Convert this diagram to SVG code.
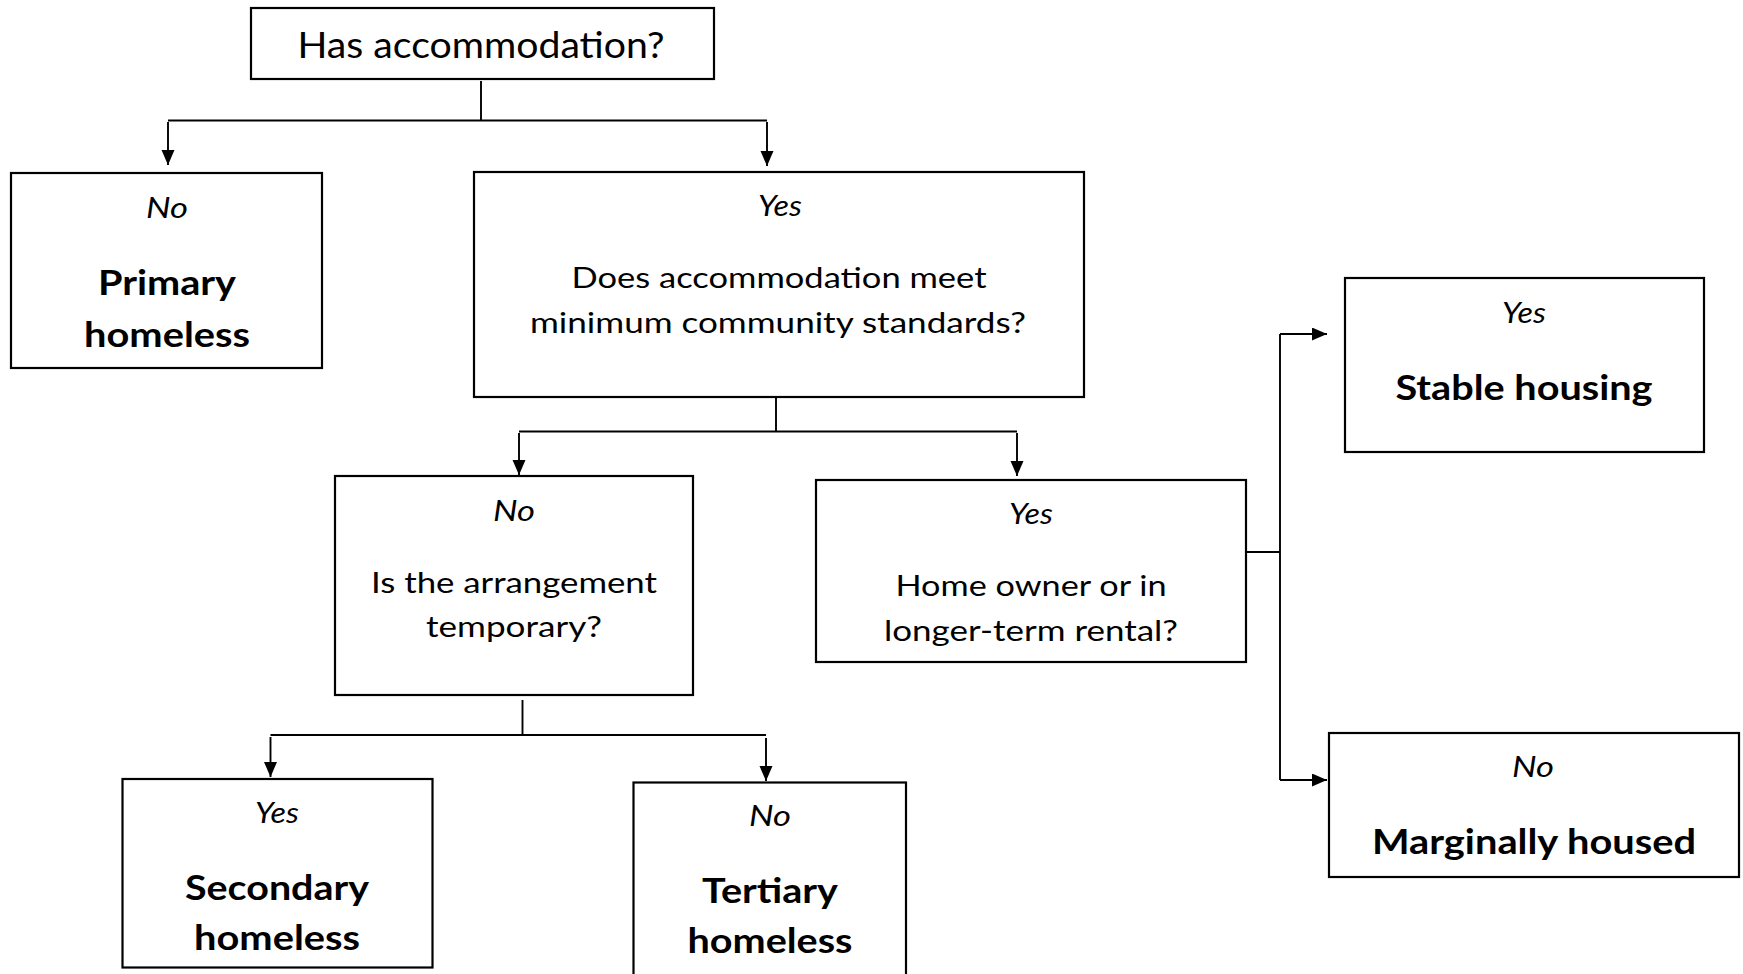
<svg xmlns="http://www.w3.org/2000/svg" width="1743" height="974" viewBox="0 0 1743 974">
<defs>
<style>
.box{fill:#fff;stroke:#000;stroke-width:2.2}
.ln{fill:none;stroke:#000;stroke-width:1.9}
.t{font-family:Lato,"Liberation Sans",sans-serif;fill:#000;text-anchor:middle}
.reg{font-size:29.5px}
.ttl{font-size:36px}
.it{font-size:28px;font-style:italic}
.bd{font-size:33.5px;font-weight:bold}
</style>
<marker id="ah" markerUnits="userSpaceOnUse" markerWidth="16" markerHeight="14" refX="15" refY="6.5" orient="auto">
<path d="M0,0 L15,6.5 L0,13 z" fill="#000"/>
</marker>
</defs>
<rect x="0" y="0" width="1743" height="974" fill="#fff"/>

<g id="connectors">
<path class="ln" d="M481,81 V120.5"/>
<path class="ln" d="M168,120.5 H767"/>
<path class="ln" d="M168,122 V165" marker-end="url(#ah)"/>
<path class="ln" d="M767,122 V166" marker-end="url(#ah)"/>

<path class="ln" d="M776,398 V432"/>
<path class="ln" d="M519,431.5 H1017"/>
<path class="ln" d="M519,433 V475" marker-end="url(#ah)"/>
<path class="ln" d="M1017,433 V476" marker-end="url(#ah)"/>

<path class="ln" d="M1243,552 H1280"/>
<path class="ln" d="M1280,334 V780"/>
<path class="ln" d="M1280,334 H1327" marker-end="url(#ah)"/>
<path class="ln" d="M1280,780 H1327" marker-end="url(#ah)"/>

<path class="ln" d="M522.5,700 V735"/>
<path class="ln" d="M270.5,735 H766"/>
<path class="ln" d="M270.5,737 V777" marker-end="url(#ah)"/>
<path class="ln" d="M766,738 V781" marker-end="url(#ah)"/>
</g>

<g id="n-has">
<rect class="box" x="251" y="8" width="463" height="71"/>
<text class="t ttl" x="481" y="58" textLength="367" lengthAdjust="spacingAndGlyphs">Has accommodation?</text>
</g>

<g id="n-primary">
<rect class="box" x="11" y="173" width="311" height="195"/>
<text class="t it" x="167" y="218" textLength="42" lengthAdjust="spacingAndGlyphs">No</text>
<text class="t bd" x="167" y="295" textLength="138" lengthAdjust="spacingAndGlyphs">Primary</text>
<text class="t bd" x="167" y="347" textLength="166" lengthAdjust="spacingAndGlyphs">homeless</text>
</g>

<g id="n-standards">
<rect class="box" x="474" y="172" width="610" height="225"/>
<text class="t it" x="780" y="215.5" textLength="44" lengthAdjust="spacingAndGlyphs">Yes</text>
<text class="t reg" x="779" y="287.5" textLength="415" lengthAdjust="spacingAndGlyphs">Does accommodation meet</text>
<text class="t reg" x="778" y="332.5" textLength="496" lengthAdjust="spacingAndGlyphs">minimum community standards?</text>
</g>

<g id="n-temporary">
<rect class="box" x="335" y="476" width="358" height="219"/>
<text class="t it" x="514" y="520.5" textLength="42" lengthAdjust="spacingAndGlyphs">No</text>
<text class="t reg" x="514" y="592.5" textLength="286" lengthAdjust="spacingAndGlyphs">Is the arrangement</text>
<text class="t reg" x="514" y="637" textLength="176" lengthAdjust="spacingAndGlyphs">temporary?</text>
</g>

<g id="n-owner">
<rect class="box" x="816" y="480" width="430" height="182"/>
<text class="t it" x="1031" y="524" textLength="44" lengthAdjust="spacingAndGlyphs">Yes</text>
<text class="t reg" x="1031" y="596" textLength="271" lengthAdjust="spacingAndGlyphs">Home owner or in</text>
<text class="t reg" x="1031" y="640.5" textLength="294" lengthAdjust="spacingAndGlyphs">longer-term rental?</text>
</g>

<g id="n-stable">
<rect class="box" x="1345" y="278" width="359" height="174"/>
<text class="t it" x="1524" y="322.5" textLength="44" lengthAdjust="spacingAndGlyphs">Yes</text>
<text class="t bd" x="1524" y="399.5" textLength="257" lengthAdjust="spacingAndGlyphs">Stable housing</text>
</g>

<g id="n-marginal">
<rect class="box" x="1329" y="733" width="410" height="144"/>
<text class="t it" x="1533" y="777" textLength="42" lengthAdjust="spacingAndGlyphs">No</text>
<text class="t bd" x="1534" y="854" textLength="324" lengthAdjust="spacingAndGlyphs">Marginally housed</text>
</g>

<g id="n-secondary">
<rect class="box" x="122.5" y="779" width="310" height="188.5"/>
<text class="t it" x="277" y="823" textLength="44" lengthAdjust="spacingAndGlyphs">Yes</text>
<text class="t bd" x="277" y="900" textLength="184" lengthAdjust="spacingAndGlyphs">Secondary</text>
<text class="t bd" x="277" y="950" textLength="166" lengthAdjust="spacingAndGlyphs">homeless</text>
</g>

<g id="n-tertiary">
<rect class="box" x="633.5" y="782.5" width="272.5" height="200"/>
<text class="t it" x="770" y="826" textLength="42" lengthAdjust="spacingAndGlyphs">No</text>
<text class="t bd" x="770" y="903" textLength="136" lengthAdjust="spacingAndGlyphs">Tertiary</text>
<text class="t bd" x="770" y="953" textLength="165" lengthAdjust="spacingAndGlyphs">homeless</text>
</g>
</svg>
